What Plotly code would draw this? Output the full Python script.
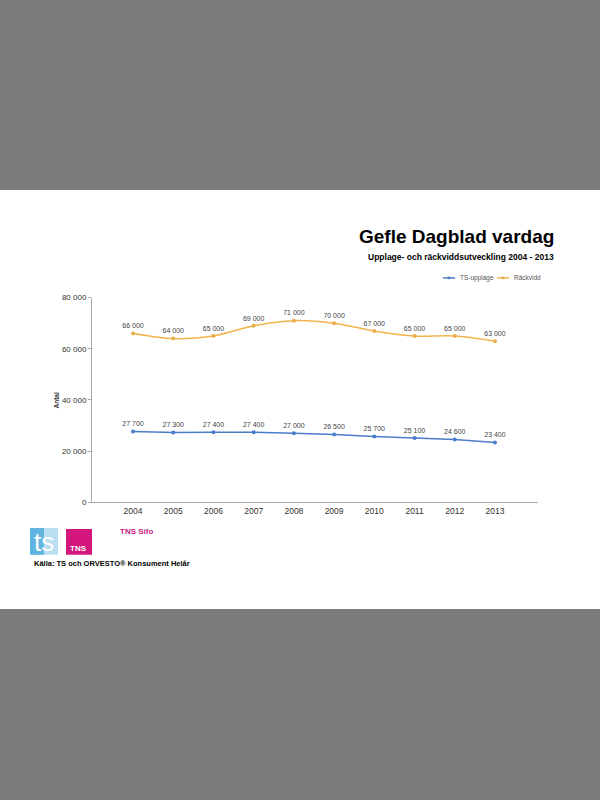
import plotly.graph_objects as go

years = ["2004", "2005", "2006", "2007", "2008", "2009", "2010", "2011", "2012", "2013"]
ts_upplage = [27700, 27300, 27400, 27400, 27000, 26500, 25700, 25100, 24600, 23400]
rackvidd = [66000, 64000, 65000, 69000, 71000, 70000, 67000, 65000, 65000, 63000]
y_ticks = [0, 20000, 40000, 60000, 80000]

BLUE = "#4a7cc9"
ORANGE = "#f2b44a"

W, H = 600, 800
def px(x): return x / W
def py(y): return 1 - y / H

def fmt(v):
    return f"{v:,}".replace(",", " ")

fig = go.Figure()
fig.add_trace(go.Scatter(
    x=years, y=ts_upplage, name="TS-upplage", mode="lines+markers+text",
    line=dict(color=BLUE, width=1.5), marker=dict(size=4, color=BLUE),
    text=[fmt(v) for v in ts_upplage], textposition="top center",
    textfont=dict(size=7, color="#444444", family="Liberation Sans"),
    showlegend=False, hoverinfo="skip",
))
fig.add_trace(go.Scatter(
    x=years, y=rackvidd, name="Räckvidd", mode="lines+markers+text",
    line=dict(color=ORANGE, width=1.5, shape="spline", smoothing=0.8),
    marker=dict(size=4, color="#e8ad4a"),
    text=[fmt(v) for v in rackvidd], textposition="top center",
    textfont=dict(size=7, color="#444444", family="Liberation Sans"),
    showlegend=False, hoverinfo="skip",
))

fig.update_layout(
    width=W, height=H, margin=dict(l=0, r=0, t=0, b=0),
    paper_bgcolor="#7b7b7b", plot_bgcolor="white",
    font=dict(family="Liberation Sans", color="#333"),
    xaxis=dict(domain=[px(92), px(538)], type="category", range=[-1.02, 10.07],
               showgrid=False, showline=True, linecolor="#aaa", linewidth=1,
               ticks="", tickfont=dict(size=8.5, color="#333"), zeroline=False),
    yaxis=dict(domain=[py(504), py(297)], range=[0, 80000], tickvals=y_ticks,
               ticktext=[fmt(v) for v in y_ticks],
               showgrid=False, showline=True, linecolor="#aaa", linewidth=1,
               ticks="outside", ticklen=3, tickcolor="#aaa",
               tickfont=dict(size=8, color="#333"), zeroline=False),
    showlegend=False,
)

shapes = [
    dict(type="rect", xref="paper", yref="paper", x0=0, x1=1, y0=py(612), y1=py(188),
         fillcolor="white", line=dict(width=0), layer="below"),
    # legend symbols
    dict(type="line", xref="paper", yref="paper", x0=px(443), x1=px(455), y0=py(277), y1=py(277),
         line=dict(color=BLUE, width=1.5)),
    dict(type="circle", xref="paper", yref="paper", x0=px(447.5), x1=px(450.5), y0=py(278.5), y1=py(275.5),
         fillcolor=BLUE, line=dict(width=0)),
    dict(type="line", xref="paper", yref="paper", x0=px(497), x1=px(509), y0=py(277), y1=py(277),
         line=dict(color=ORANGE, width=1.5)),
    dict(type="circle", xref="paper", yref="paper", x0=px(501.5), x1=px(504.5), y0=py(278.5), y1=py(275.5),
         fillcolor="#e8ad4a", line=dict(width=0)),
    # ts logo
    dict(type="rect", xref="paper", yref="paper", x0=px(30), x1=px(58), y0=py(557), y1=py(530),
         fillcolor="#b9e0f2", line=dict(width=0), layer="above"),
    dict(type="rect", xref="paper", yref="paper", x0=px(30), x1=px(44), y0=py(557), y1=py(530),
         fillcolor="#5fb5e0", line=dict(width=0), layer="above"),
    # TNS box
    dict(type="rect", xref="paper", yref="paper", x0=px(66), x1=px(92), y0=py(557), y1=py(531),
         fillcolor="#d4157e", line=dict(width=0), layer="above"),
]
fig.update_layout(shapes=shapes)

annotations = [
    dict(text="<b>Gefle Dagblad vardag</b>", x=px(556), y=py(235), xref="paper", yref="paper",
         xanchor="right", yanchor="middle", showarrow=False,
         font=dict(size=19, color="#000", family="Liberation Sans")),
    dict(text="<b>Upplage- och räckviddsutveckling 2004 - 2013</b>", x=px(556), y=py(256),
         xref="paper", yref="paper", xanchor="right", yanchor="middle", showarrow=False,
         font=dict(size=8.5, color="#000", family="Liberation Sans")),
    dict(text="<b>Antal</b>", x=px(56), y=py(401), xref="paper", yref="paper", showarrow=False,
         textangle=-90, xanchor="center", yanchor="middle",
         font=dict(size=6.5, color="#333", family="Liberation Sans")),
    dict(text="TS-upplage", x=px(458), y=py(277), xref="paper", yref="paper", showarrow=False,
         xanchor="left", yanchor="middle", font=dict(size=6.5, color="#555", family="Liberation Sans")),
    dict(text="Räckvidd", x=px(512), y=py(277), xref="paper", yref="paper", showarrow=False,
         xanchor="left", yanchor="middle", font=dict(size=6.5, color="#555", family="Liberation Sans")),
    dict(text="ts", x=px(44), y=py(544), xref="paper", yref="paper", showarrow=False,
         xanchor="center", yanchor="middle",
         font=dict(size=26, color="white", family="Liberation Sans")),
    dict(text="<b>TNS</b>", x=px(79), y=py(551), xref="paper", yref="paper", showarrow=False,
         xanchor="center", yanchor="middle",
         font=dict(size=8, color="white", family="Liberation Sans")),
    dict(text="<b>TNS Sifo</b>", x=px(118), y=py(534), xref="paper", yref="paper", showarrow=False,
         xanchor="left", yanchor="middle",
         font=dict(size=8, color="#c9217f", family="Liberation Sans")),
    dict(text="<b>Källa: TS och ORVESTO® Konsument Helår</b>", x=px(32), y=py(566),
         xref="paper", yref="paper", showarrow=False, xanchor="left", yanchor="middle",
         font=dict(size=7.5, color="#000", family="Liberation Sans")),
]
fig.update_layout(annotations=annotations)

fig.write_html("out.html", config={"displayModeBar": False, "staticPlot": True},
               post_script="document.body.style.margin='0';document.body.style.overflow='hidden';")
